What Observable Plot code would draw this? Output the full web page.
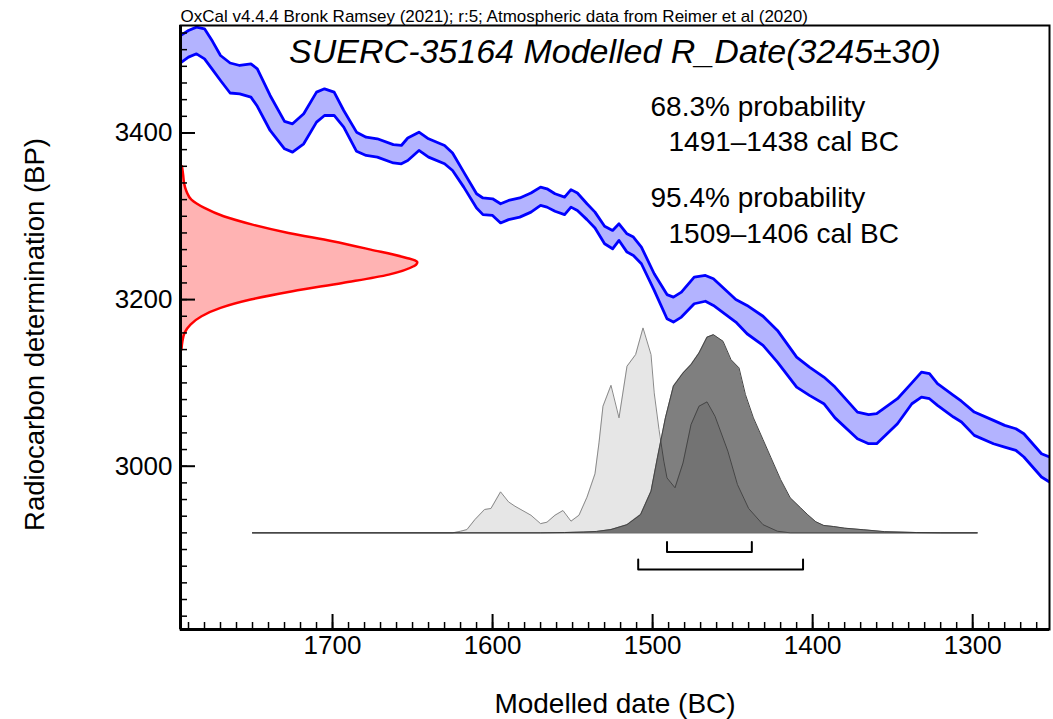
<!DOCTYPE html>
<html>
<head>
<meta charset="utf-8">
<script src="https://cdn.jsdelivr.net/npm/d3@7"></script>
<script src="https://cdn.jsdelivr.net/npm/@observablehq/plot@0.6"></script>
<style>
  html, body { margin: 0; padding: 0; background: #fff; }
</style>
</head>
<body>
<div id="chart"></div>
<script>
// ---------- data ----------
const headerText = "OxCal v4.4.4 Bronk Ramsey (2021); r:5; Atmospheric data from Reimer et al (2020)";
const titleText = "SUERC-35164 Modelled R_Date(3245±30)";
const xLabel = "Modelled date (BC)";
const yLabel = "Radiocarbon determination (BP)";

// calibration curve band (cal BC, upper / lower BP)
const calYears = [1795,1790,1785,1780,1775,1770,1764,1758,1751,1747,1739,1730,1725,1718,1710,1705,1699,1693,1685,1679,1672,1662,1657,1653,1646,1640,1630,1625,1618,1610,1606,1600,1595,1590,1583,1576,1570,1566,1561,1555,1551,1547,1541,1536,1530,1525,1521,1516,1512,1507,1499,1491,1487,1482,1474,1467,1462,1448,1441,1431,1422,1410,1402,1393,1386,1372,1365,1360,1347,1338,1332,1327,1322,1312,1307,1299,1287,1280,1273,1268,1257,1252];
const calHi = [3517,3523,3527,3525,3510,3493,3484,3481,3483,3477,3445,3414,3411,3423,3449,3453,3449,3427,3401,3395,3393,3386,3385,3394,3401,3393,3385,3376,3353,3327,3322,3321,3315,3319,3322,3328,3335,3333,3327,3323,3332,3328,3315,3305,3288,3283,3291,3279,3275,3263,3231,3206,3203,3209,3227,3229,3225,3200,3193,3180,3163,3131,3119,3107,3095,3065,3062,3063,3081,3100,3113,3111,3099,3085,3078,3065,3055,3049,3045,3039,3015,3011];
const calLo = [3484,3491,3495,3489,3476,3463,3448,3447,3443,3432,3403,3381,3377,3387,3413,3421,3421,3407,3378,3373,3371,3364,3363,3367,3379,3371,3363,3355,3335,3310,3302,3301,3292,3296,3299,3305,3313,3311,3306,3302,3311,3307,3296,3286,3267,3261,3271,3257,3253,3243,3211,3177,3173,3179,3195,3198,3193,3173,3159,3145,3125,3095,3085,3075,3058,3033,3027,3027,3051,3075,3083,3081,3073,3059,3053,3037,3027,3023,3019,3011,2987,2981];

// R_Date likelihood on the BP axis (relative, peak = 1)
const redBP = [3360,3350,3340,3330,3320,3310,3300,3290,3280,3270,3260,3250,3247,3245,3242,3240,3230,3220,3210,3200,3190,3180,3170,3160,3150,3140];
const redP  = [0.006,0.011,0.015,0.025,0.046,0.101,0.182,0.304,0.456,0.642,0.803,0.955,0.99,1,0.995,0.984,0.879,0.684,0.473,0.296,0.169,0.089,0.042,0.017,0.008,0.004];

// calibrated likelihood (light grey), relative, peak = 100
const likeYears = [1750,1625,1620,1616,1611,1605,1601,1595,1590,1586,1576,1570,1566,1561,1556,1551,1546,1541,1536,1533.5,1531,1526,1521,1516,1510.6,1506,1501,1499,1496,1493,1491,1486,1481,1476,1471,1466,1461,1453,1447,1440,1431,1422,1414,1297];
const likeP = [0,0,0.8,1.6,6.5,11.4,11.9,20,15.1,13,8.6,4.5,5.2,8.6,10.9,5.7,8.6,17.4,28.8,43.9,61.8,72,56.1,81.3,87,100,87,68.3,50.4,35,26.8,22,34.1,52.8,61.8,63.9,56.9,39.9,23.6,11.9,4,0.8,0,0];

// modelled posterior (dark grey), same relative units
const postYears = [1750,1570,1555,1543,1535,1526,1516,1507.5,1501,1497,1492,1487,1481,1476,1471,1466,1462,1456,1451,1446,1442,1437,1431,1426,1420,1414,1407.5,1403,1398,1393,1387,1380,1368,1355,1335,1320,1297];
const postP = [0,0,0.15,0.4,0.7,1.6,4,8.9,20.3,36.6,56.1,71.6,78,82.1,87.8,95.5,96.7,93.5,84.5,80.5,67.5,56.1,45.5,36.6,26,17.1,12.2,8.8,5.4,3.6,3.1,2.3,1.5,0.6,0.15,0,0];

// highest probability ranges (cal BC)
const range68 = [[1491, 1438]];
const range95 = [[1509, 1406]];

// axis ticks
const xMajor = [1700, 1600, 1500, 1400, 1300];
const xMinor = d3.range(1790, 1252, -10);
const yMajor = [3000, 3200, 3400];
const yMinor = d3.range(2820, 3529, 20);

// ---------- layout constants ----------
const xDomain = [1795, 1252];
const yDomain = [2804, 3529];
const baseBP = 2920;          // baseline of the date distributions
const distScale = 2.46;       // BP per relative unit
const redPeakYears = 148;     // width of red peak in years

const cal = calYears.map((year, i) => ({year, hi: calHi[i], lo: calLo[i]}));
const red = redBP.map((bp, i) => ({bp, x2: xDomain[0] - redP[i] * redPeakYears}));
const like = likeYears.map((year, i) => ({year, y: baseBP + likeP[i] * distScale}));
const post = postYears.map((year, i) => ({year, y: baseBP + postP[i] * distScale}));

function bracket(r, level) {
  const tick = 12;
  return [
    {x: r[0], y: level + tick}, {x: r[0], y: level},
    {x: r[1], y: level}, {x: r[1], y: level + tick}
  ];
}
const br68 = range68.map(r => bracket(r, 2897)).flat();
const br95 = range95.map(r => bracket(r, 2876)).flat();

const FONT = "'Liberation Sans', Arial, Helvetica, sans-serif";

const plot = Plot.plot({
  width: 1053,
  height: 719,
  marginLeft: 180,
  marginRight: 4,
  marginTop: 25,
  marginBottom: 90,
  x: {domain: xDomain, label: null},
  y: {domain: yDomain, label: null},
  style: {fontFamily: FONT, fontSize: "26px", background: "#fff", color: "#000", overflow: "visible"},
  marks: [
    // calibration curve
    Plot.areaY(cal, {x: "year", y1: "lo", y2: "hi", fill: "#b3b3ff", clip: true}),
    Plot.lineY(cal, {x: "year", y: "hi", stroke: "#0000ff", strokeWidth: 2.8, clip: true}),
    Plot.lineY(cal, {x: "year", y: "lo", stroke: "#0000ff", strokeWidth: 2.8, clip: true}),
    // R_Date on the BP axis
    Plot.areaX(red, {y: "bp", x1: xDomain[0], x2: "x2", fill: "#ffb3b3", curve: "monotone-y"}),
    Plot.lineX(red, {y: "bp", x: "x2", stroke: "#ff0000", strokeWidth: 2.5, curve: "monotone-y"}),
    // likelihood
    Plot.areaY(like, {x: "year", y1: baseBP, y2: "y", fill: "#e6e6e6"}),
    Plot.lineY(like, {x: "year", y: "y", stroke: "#8a8a8a", strokeWidth: 1}),
    // posterior
    Plot.areaY(post, {x: "year", y1: baseBP, y2: "y", fill: "#000", fillOpacity: 0.5}),
    Plot.lineY(post, {x: "year", y: "y", stroke: "#444", strokeWidth: 1}),
    Plot.ruleY([baseBP], {x1: 1750, x2: 1297, stroke: "#333", strokeWidth: 1}),
    // ranges
    Plot.line(br68, {x: "x", y: "y", stroke: "#000", strokeWidth: 2}),
    Plot.line(br95, {x: "x", y: "y", stroke: "#000", strokeWidth: 2}),
    // frame and axes
    Plot.frame({stroke: "#000", strokeWidth: 2}),
    Plot.ruleX([xDomain[0]], {stroke: "#000", strokeWidth: 3}),
    Plot.ruleY([yDomain[0]], {stroke: "#000", strokeWidth: 3}),
    Plot.axisX({ticks: xMajor, tickSize: -15, strokeWidth: 2, fill: "none", label: null}),
    Plot.axisX({ticks: xMinor, tickSize: -7, strokeWidth: 1.5, fill: "none", label: null}),
    Plot.axisX({ticks: xMajor, tickSize: 0, tickPadding: 6, fontSize: 26, tickFormat: d => `${d}`, label: null}),
    Plot.axisY({ticks: yMajor, tickSize: -15, strokeWidth: 2, fill: "none", label: null}),
    Plot.axisY({ticks: yMinor, tickSize: -7, strokeWidth: 1.5, fill: "none", label: null}),
    Plot.axisY({ticks: yMajor, tickSize: 0, tickPadding: 8, fontSize: 26, tickFormat: d => `${d}`, label: null}),
    // texts
    Plot.text([headerText], {text: d => d, frameAnchor: "top-left", dy: -4, lineAnchor: "bottom", textAnchor: "start", fontSize: 17}),
    Plot.text([titleText], {text: d => d, frameAnchor: "top", dy: 37, lineAnchor: "bottom", textAnchor: "middle", fontSize: 34, fontStyle: "italic"}),
    Plot.text(["68.3% probability"], {text: d => d, frameAnchor: "top-left", dx: 470, dy: 90, lineAnchor: "bottom", textAnchor: "start", fontSize: 28}),
    Plot.text(range68, {text: r => `${r[0]}–${r[1]} cal BC`, frameAnchor: "top-left", dx: 488, dy: 125, lineAnchor: "bottom", textAnchor: "start", fontSize: 28}),
    Plot.text(["95.4% probability"], {text: d => d, frameAnchor: "top-left", dx: 470, dy: 181, lineAnchor: "bottom", textAnchor: "start", fontSize: 28}),
    Plot.text(range95, {text: r => `${r[0]}–${r[1]} cal BC`, frameAnchor: "top-left", dx: 488, dy: 217, lineAnchor: "bottom", textAnchor: "start", fontSize: 28}),
    Plot.text([xLabel], {text: d => d, frameAnchor: "bottom", dy: 83, lineAnchor: "bottom", textAnchor: "middle", fontSize: 28}),
    Plot.text([yLabel], {text: d => d, frameAnchor: "left", dx: -137, dy: 7, rotate: -90, lineAnchor: "bottom", textAnchor: "middle", fontSize: 27.5})
  ]
});
document.getElementById("chart").appendChild(plot);
</script>
</body>
</html>
